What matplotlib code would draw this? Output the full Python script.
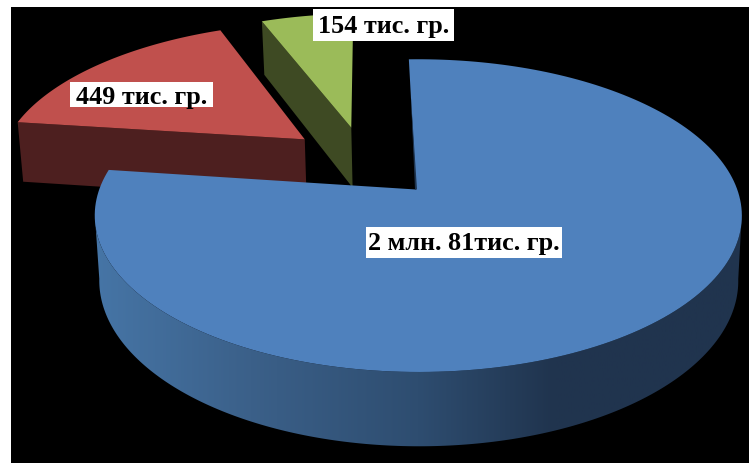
import numpy as np
import matplotlib
matplotlib.use("Agg")
import matplotlib.pyplot as plt
from matplotlib.colors import LinearSegmentedColormap
from matplotlib.patches import Polygon

values = [2081, 449, 154]
labels = ["2 млн. 81тис. гр.", "449 тис. гр.", "154 тис. гр."]
top_colors = ["#4f81bd", "#c0504d", "#9bbb59"]
side_colors = ["#1f3550", "#4d1f1f", "#3e4a23"]

# slice offsets in the plane of the pie
explode = [(0.0, 0.0), (-0.37, 0.35), (-0.218, 0.437)]
# white box centre, box size, text baseline
label_pos = [(464, 243.5), (141.5, 95.5), (383.5, 26.3)]
label_box = [(196, 31), (143, 25), (141, 32)]
label_base = [250, 104, 33]

START = -1.5
K = 0.167
M = -0.007


def project(u, v, bottom=False):
    w = 1 + K * v + M * u
    if bottom:
        return 416.5 + 315 * u / w, 254 - 161 * v / w
    return 416 + 319 * u / w, 190.5 - 152 * v / w


def arc(t0, t1, off, bottom=False, n=200):
    t = np.radians(np.linspace(t0, t1, n))
    return project(off[0] + np.sin(t), off[1] + np.cos(t), bottom)


fig = plt.figure(figsize=(7.49, 4.64), dpi=100, facecolor="white")
ax = fig.add_axes([11 / 749, 0, 738 / 749, 456 / 464], facecolor="black")
ax.set_xticks([])
ax.set_yticks([])
for s in ax.spines.values():
    s.set_visible(False)

angles = START + np.cumsum([0] + values) / sum(values) * 360

# gradient along x for the outer wall
wall = LinearSegmentedColormap.from_list(
    "wall", [(0.0, "#4675a6"), (0.24, "#3b6089"), (0.50, "#2e4d70"), (0.71, "#20344e"), (1.0, "#20344e")])

# green and red first, blue goes over them
for i in [2, 1, 0]:
    t0, t1 = angles[i], angles[i + 1]
    off = explode[i]
    cx, cy = project(off[0], off[1])
    if i > 0:
        # cut face of the slice
        bx, by = project(off[0], off[1], True)
        ex, ey = project(off[0] + np.sin(np.radians(t0)), off[1] + np.cos(np.radians(t0)))
        fx, fy = project(off[0] + np.sin(np.radians(t0)), off[1] + np.cos(np.radians(t0)), True)
        ax.fill([cx, ex, fx, bx], [cy, ey, fy, by], color=side_colors[i], lw=0, zorder=i + 1)
    else:
        # arcs stop at the left and right tangents of the ellipse
        xt, yt = arc(99, 261, off)
        xb, yb = arc(99, 261, off, True)
        poly = Polygon(np.c_[np.r_[xt, xb[::-1]], np.r_[yt, yb[::-1]]], closed=True,
                       transform=ax.transData, fc="none", ec="none")
        ax.add_patch(poly)
        im = ax.imshow(np.linspace(0, 1, 256)[None, :], cmap=wall, aspect="auto",
                       extent=(95, 742, 464, 8), zorder=5)
        im.set_clip_path(poly)
    x, y = arc(t0, t1, off)
    ax.fill(np.r_[cx, x], np.r_[cy, y], color=top_colors[i], lw=0, zorder=6 if i == 0 else i + 2)

# thin dark sliver of the big slice cut, next to its centre
cx, cy = project(0, 0)
ex, ey = project(np.sin(np.radians(START)) * 0.7, np.cos(np.radians(START)) * 0.7)
ax.fill([cx - 1, cx + 1, ex], [cy, cy, ey], color=side_colors[0], lw=0, zorder=7)

for i, lab in enumerate(labels):
    bx, by = label_pos[i]
    w, h = label_box[i]
    ax.add_patch(plt.Rectangle((bx - w / 2, by - h / 2), w, h, color="white", lw=0, zorder=9))
    ax.text(bx, label_base[i], lab, family="Liberation Serif", weight="bold", fontsize=18.8,
            ha="center", va="baseline", color="black", zorder=10)

ax.set_xlim(11, 749)
ax.set_ylim(464, 8)

fig.savefig("out.png", dpi=100, facecolor="white")
